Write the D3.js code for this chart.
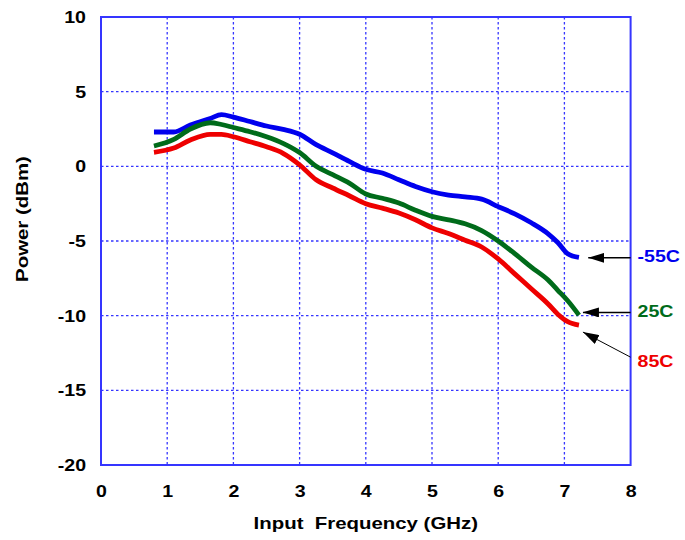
<!DOCTYPE html>
<html>
<head>
<meta charset="utf-8">
<script src="https://cdn.jsdelivr.net/npm/d3@7"></script>
<style>
  body { margin: 0; background: #fff; }
  text { font-family: "Liberation Sans", Arial, sans-serif; font-weight: bold; }
</style>
</head>
<body>
<div id="chart"></div>
<script>
var svgWidth = 685;
var svgHeight = 540;
var margin = { top: 17, right: 54.4, bottom: 75, left: 101 };
var width = svgWidth - margin.left - margin.right;
var height = svgHeight - margin.top - margin.bottom;

// data
var freq = [0.8, 1.1, 1.35, 1.65, 1.82, 2.0, 2.25, 2.5, 2.75, 3.0, 3.25, 3.5, 3.75, 4.0,
            4.25, 4.5, 4.75, 5.0, 5.25, 5.5, 5.75, 6.0, 6.25, 6.5, 6.75, 6.9, 7.05, 7.22];
var powerM55 = [2.3, 2.3, 2.77, 3.2, 3.46, 3.3, 3.0, 2.7, 2.48, 2.15, 1.45, 0.9, 0.33, -0.2,
                -0.45, -0.9, -1.35, -1.7, -1.92, -2.05, -2.2, -2.7, -3.18, -3.78, -4.5, -5.1, -5.85, -6.1];
var power25 = [1.36, 1.8, 2.5, 2.92, 2.8, 2.6, 2.32, 1.98, 1.54, 0.92, 0.0, -0.56, -1.12, -1.85,
               -2.14, -2.46, -2.94, -3.35, -3.58, -3.85, -4.3, -5.0, -5.85, -6.75, -7.6, -8.3, -9.0, -9.96];
var power85 = [0.94, 1.22, 1.76, 2.14, 2.14, 1.98, 1.65, 1.31, 0.87, 0.1, -0.9, -1.45, -1.97, -2.5,
               -2.8, -3.13, -3.58, -4.12, -4.5, -4.95, -5.4, -6.2, -7.2, -8.2, -9.2, -9.9, -10.4, -10.63];
var seriesNames = ["-55C", "25C", "85C"];
var seriesColors = ["#0000ee", "#006b1a", "#ee0000"];
var xTicks = [0, 1, 2, 3, 4, 5, 6, 7, 8];
var yTicks = [10, 5, 0, -5, -10, -15, -20];

// label callouts (data units)
var labelY = [-6.0, -9.67, -13.0];
var arrowTail = [[8, -6.13], [8, -9.78], [8, -12.78]];
var arrowTip = [[7.36, -6.13], [7.28, -9.78], [7.28, -11.1]];

var series = [powerM55, power25, power85].map(function(vals, i) {
    return {
        name: seriesNames[i],
        color: seriesColors[i],
        values: freq.map(function(f, j) { return { x: f, y: vals[j] }; })
    };
});

var svg = d3.select("#chart")
    .append("svg")
    .attr("width", svgWidth)
    .attr("height", svgHeight);

var chartGroup = svg.append("g")
    .attr("transform", `translate(${margin.left},${margin.top})`);

var xScale = d3.scaleLinear().domain([0, 8]).range([0, width]);
var yScale = d3.scaleLinear().domain([-20, 10]).range([height, 0]);

var gridColor = "#3535ff";

// stretch text a bit wider, the original font is broad
function widen(sel, k) {
    sel.each(function() {
        var len = this.getComputedTextLength();
        d3.select(this).attr("textLength", len * k).attr("lengthAdjust", "spacingAndGlyphs");
    });
}

// grid
chartGroup.selectAll(".vgrid")
    .data(xTicks.slice(1, -1))
    .enter()
    .append("line")
    .attr("x1", d => xScale(d)).attr("x2", d => xScale(d))
    .attr("y1", 0).attr("y2", height)
    .attr("stroke", gridColor)
    .attr("stroke-width", 1.3)
    .attr("stroke-dasharray", "2.5,2.5");

chartGroup.selectAll(".hgrid")
    .data(yTicks.slice(1, -1))
    .enter()
    .append("line")
    .attr("x1", 0).attr("x2", width)
    .attr("y1", d => yScale(d)).attr("y2", d => yScale(d))
    .attr("stroke", gridColor)
    .attr("stroke-width", 1.3)
    .attr("stroke-dasharray", "2.5,2.5");

// axes (labels only)
var bottomAxis = d3.axisBottom(xScale).tickValues(xTicks).tickSize(0).tickPadding(20)
    .tickFormat(d => String(d));
var leftAxis = d3.axisLeft(yScale).tickValues(yTicks).tickSize(0).tickPadding(15)
    .tickFormat(d => String(d));

var xAxis = chartGroup.append("g")
    .attr("transform", `translate(0,${height})`)
    .call(bottomAxis);
var yAxis = chartGroup.append("g")
    .call(leftAxis);

[xAxis, yAxis].forEach(function(ax) {
    ax.select(".domain").remove();
    ax.selectAll("text")
        .style("font-size", "17px")
        .style("font-family", "'Liberation Sans', Arial, sans-serif")
        .style("font-weight", "bold")
        .attr("fill", "#000")
        .call(widen, 1.15);
});

// plot frame
chartGroup.append("rect")
    .attr("x", 0).attr("y", 0)
    .attr("width", width).attr("height", height)
    .attr("fill", "none")
    .attr("stroke", gridColor)
    .attr("stroke-width", 2);

// lines
var line = d3.line()
    .x(d => xScale(d.x))
    .y(d => yScale(d.y))
    .curve(d3.curveMonotoneX);

chartGroup.selectAll(".series")
    .data(series)
    .enter()
    .append("path")
    .attr("d", d => line(d.values))
    .attr("fill", "none")
    .attr("stroke", d => d.color)
    .attr("stroke-width", 4.8);

// arrows
svg.append("defs").append("marker")
    .attr("id", "head")
    .attr("markerUnits", "userSpaceOnUse")
    .attr("viewBox", "0 0 16 10")
    .attr("refX", 16).attr("refY", 5)
    .attr("markerWidth", 16).attr("markerHeight", 10)
    .attr("orient", "auto")
    .append("path")
    .attr("d", "M0,0 L16,5 L0,10 Z")
    .attr("fill", "#000");

chartGroup.selectAll(".arrow")
    .data(seriesNames)
    .enter()
    .append("line")
    .attr("x1", (d, i) => xScale(arrowTail[i][0]))
    .attr("y1", (d, i) => yScale(arrowTail[i][1]))
    .attr("x2", (d, i) => xScale(arrowTip[i][0]))
    .attr("y2", (d, i) => yScale(arrowTip[i][1]))
    .attr("stroke", "#000")
    .attr("stroke-width", (d, i) => i == 2 ? 1 : 1.5)
    .attr("marker-end", "url(#head)");

chartGroup.selectAll(".label")
    .data(seriesNames)
    .enter()
    .append("text")
    .attr("x", width + 7)
    .attr("y", (d, i) => yScale(labelY[i]))
    .attr("dy", "0.36em")
    .attr("fill", (d, i) => seriesColors[i])
    .style("font-size", "17px")
    .text(d => d)
    .call(widen, 1.15);

// axis titles
svg.append("text")
    .attr("x", margin.left + width / 2)
    .attr("y", 529)
    .attr("text-anchor", "middle")
    .style("font-size", "17px")
    .style("white-space", "pre")
    .text("Input  Frequency (GHz)")
    .call(widen, 1.2);

svg.append("text")
    .attr("transform", `translate(28,${219}) rotate(-90)`)
    .attr("text-anchor", "middle")
    .style("font-size", "17px")
    .text("Power (dBm)")
    .call(widen, 1.2);
</script>
</body>
</html>
